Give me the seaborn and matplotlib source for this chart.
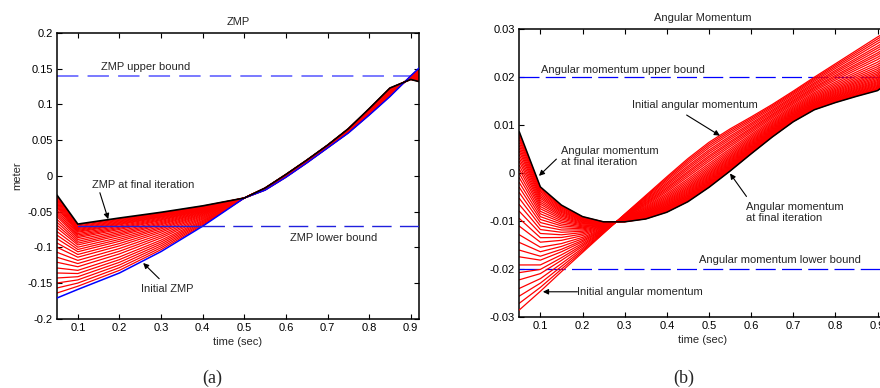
import matplotlib
matplotlib.use("Agg")
import matplotlib.pyplot as plt
import seaborn as sns
import pandas as pd
import numpy as np

# ---------------- data ----------------
zmp_time = [0.05, 0.1, 0.2, 0.3, 0.4, 0.5, 0.55, 0.6, 0.65, 0.7, 0.75, 0.8, 0.85, 0.9, 0.92]
zmp_initial = [-0.171, -0.159, -0.136, -0.106, -0.0705, -0.031, -0.020, -0.002, 0.018, 0.039,
               0.060, 0.085, 0.111, 0.140, 0.151]
zmp_final = [-0.027, -0.0675, -0.059, -0.051, -0.042, -0.031, -0.017, 0.002, 0.022, 0.043,
             0.066, 0.094, 0.123, 0.135, 0.132]
zmp_iter_start = [-0.164, -0.157, -0.150, -0.143, -0.136, -0.129, -0.121, -0.114, -0.107,
                  -0.100, -0.094, -0.088, -0.083, -0.078, -0.073, -0.069, -0.065, -0.061,
                  -0.057, -0.054, -0.051, -0.048, -0.045, -0.043, -0.041, -0.039, -0.037,
                  -0.035, -0.033, -0.031, -0.029]
zmp_upper = 0.14
zmp_lower = -0.07

am_time = [0.05, 0.1, 0.15, 0.2, 0.25, 0.3, 0.35, 0.4, 0.45, 0.5, 0.55, 0.6, 0.65, 0.7,
           0.75, 0.8, 0.85, 0.9, 0.92]
am_initial = [-0.0286, -0.0247, -0.0206, -0.0166, -0.0126, -0.0086, -0.0047, -0.0008, 0.0030,
              0.0064, 0.0092, 0.0117, 0.0143, 0.0171, 0.0200, 0.0228, 0.0256, 0.0284, 0.0294]
am_final = [0.0086, -0.0029, -0.0067, -0.0091, -0.0102, -0.0102, -0.0096, -0.0082, -0.0060,
            -0.0030, 0.0004, 0.0040, 0.0075, 0.0107, 0.0132, 0.0147, 0.0160, 0.0172, 0.0185]
# angular momentum of each intermediate iteration at t = 0.05
am_iter_start = [-0.0272, -0.0257, -0.0241, -0.0223, -0.0208, -0.0192, -0.0175, -0.0161,
                 -0.0145, -0.0129, -0.0111, -0.0095, -0.0080, -0.0066, -0.0053, -0.0041,
                 -0.0030, -0.0020, -0.0010, -0.0001, 0.0008, 0.0016, 0.0024, 0.0031, 0.0038,
                 0.0045, 0.0051, 0.0057, 0.0063, 0.0069, 0.0074, 0.0079, 0.0083]
am_upper = 0.02
am_lower = -0.02

x_ticks = [0.1, 0.2, 0.3, 0.4, 0.5, 0.6, 0.7, 0.8, 0.9]
zmp_yticks = [-0.2, -0.15, -0.1, -0.05, 0, 0.05, 0.1, 0.15, 0.2]
zmp_yticklabels = ["-0.2", "-0.15", "-0.1", "-0.05", "0", "0.05", "0.1", "0.15", "0.2"]
am_yticks = [-0.03, -0.02, -0.01, 0, 0.01, 0.02, 0.03]
am_yticklabels = ["-0.03", "-0.02", "-0.01", "0", "0.01", "0.02", "0.03"]


def iteration_frame(time, initial, final, starts):
    ini = np.array(initial)
    fin = np.array(final)
    rows = []
    for k, s in enumerate(starts):
        w = (s - ini[0]) / (fin[0] - ini[0])
        vals = ini + w * (fin - ini)
        for t, v in zip(time, vals):
            rows.append({"t": t, "v": v, "iter": k})
    return pd.DataFrame(rows)


# ---------------- style ----------------
sns.set_style("ticks", {"xtick.direction": "in", "ytick.direction": "in"})
plt.rcParams["font.family"] = ["Liberation Sans", "DejaVu Sans"]
plt.rcParams["axes.linewidth"] = 1.1
plt.rcParams["xtick.major.size"] = 3.5
plt.rcParams["ytick.major.size"] = 3.5

fig = plt.figure(figsize=(8.8, 3.88), dpi=100)
ax1 = fig.add_axes([0.0648, 0.1786, 0.4114, 0.7363])
ax2 = fig.add_axes([0.5901, 0.1838, 0.4167, 0.7407])

FS = 8

# ---------------- left: ZMP ----------------
ax1.plot([0.05, 0.92], [zmp_upper, zmp_upper], color="#5555ff", lw=1.1,
         dashes=(14, 6), zorder=1)
df1 = iteration_frame(zmp_time, zmp_initial, zmp_final, zmp_iter_start)
sns.lineplot(data=df1, x="t", y="v", units="iter", estimator=None, color="red",
             lw=0.9, ax=ax1, zorder=2, legend=False)
sns.lineplot(x=zmp_time, y=zmp_initial, color="blue", lw=1.1, ax=ax1, zorder=3)
sns.lineplot(x=zmp_time, y=zmp_final, color="black", lw=1.2, ax=ax1, zorder=4)
ax1.plot([0.1, 0.405], [zmp_lower, zmp_lower], color="#2020dd", lw=1.0, zorder=5)
ax1.plot([0.405, 0.92], [zmp_lower, zmp_lower], color="#2020dd", lw=1.0,
         dashes=(14, 6), zorder=5)

ax1.set_xlim(0.05, 0.92)
ax1.set_ylim(-0.2, 0.2)
ax1.set_xticks(x_ticks)
ax1.set_xticklabels([f"{v:g}" for v in x_ticks])
ax1.set_yticks(zmp_yticks)
ax1.set_yticklabels(zmp_yticklabels)
ax1.set_title("ZMP", fontsize=FS, pad=6)
ax1.set_xlabel("time (sec)", fontsize=FS, labelpad=3)
ax1.set_ylabel("meter", fontsize=FS, labelpad=4)

ax1.text(0.156, 0.153, "ZMP upper bound", fontsize=FS, va="center", ha="left")
ax1.text(0.611, -0.087, "ZMP lower bound", fontsize=FS, va="center", ha="left")
ax1.text(0.134, -0.0126, "ZMP at final iteration", fontsize=FS, va="center", ha="left")
ax1.annotate("", xy=(0.173, -0.0606), xytext=(0.153, -0.0236),
             arrowprops=dict(arrowstyle="-|>", color="black", lw=0.8,
                             mutation_scale=8, shrinkA=0, shrinkB=0))
ax1.text(0.253, -0.158, "Initial ZMP", fontsize=FS, va="center", ha="left")
ax1.annotate("", xy=(0.257, -0.122), xytext=(0.2955, -0.144),
             arrowprops=dict(arrowstyle="-|>", color="black", lw=0.8,
                             mutation_scale=8, shrinkA=0, shrinkB=0))

# ---------------- right: Angular momentum ----------------
ax2.plot([0.05, 0.92], [am_upper, am_upper], color="blue", lw=0.9,
         dashes=(16, 5), zorder=1)
ax2.plot([0.05, 0.92], [am_lower, am_lower], color="blue", lw=0.9,
         dashes=(16, 5), zorder=1)
df2 = iteration_frame(am_time, am_initial, am_final, am_iter_start)
sns.lineplot(data=df2, x="t", y="v", units="iter", estimator=None, color="red",
             lw=0.9, ax=ax2, zorder=2, legend=False)
sns.lineplot(x=am_time, y=am_initial, color="red", lw=0.9, ax=ax2, zorder=3)
sns.lineplot(x=am_time, y=am_final, color="black", lw=1.1, ax=ax2, zorder=4)

ax2.set_xlim(0.05, 0.92)
ax2.set_ylim(-0.03, 0.03)
ax2.set_xticks(x_ticks)
ax2.set_xticklabels([f"{v:g}" for v in x_ticks])
ax2.set_yticks(am_yticks)
ax2.set_yticklabels(am_yticklabels)
ax2.set_title("Angular Momentum", fontsize=FS, pad=6)
ax2.set_xlabel("time (sec)", fontsize=FS, labelpad=3)
ax2.set_ylabel("")

ax2.text(0.102, 0.0216, "Angular momentum upper bound", fontsize=FS, va="center", ha="left")
ax2.text(0.477, -0.0182, "Angular momentum lower bound", fontsize=FS, va="center", ha="left")
ax2.text(0.318, 0.0142, "Initial angular momentum", fontsize=FS, va="center", ha="left")
ax2.annotate("", xy=(0.526, 0.0078), xytext=(0.447, 0.0121),
             arrowprops=dict(arrowstyle="-|>", color="black", lw=0.8,
                             mutation_scale=8, shrinkA=0, shrinkB=0))
ax2.text(0.150, 0.0035, "Angular momentum\nat final iteration", fontsize=FS,
         va="center", ha="left", linespacing=1.15)
ax2.annotate("", xy=(0.0967, -0.0006), xytext=(0.138, 0.0029),
             arrowprops=dict(arrowstyle="-|>", color="black", lw=0.8,
                             mutation_scale=8, shrinkA=0, shrinkB=0))
ax2.text(0.588, -0.00825, "Angular momentum\nat final iteration", fontsize=FS,
         va="center", ha="left", linespacing=1.15)
ax2.annotate("", xy=(0.55, -0.0001), xytext=(0.589, -0.0049),
             arrowprops=dict(arrowstyle="-|>", color="black", lw=0.8,
                             mutation_scale=8, shrinkA=0, shrinkB=0))
ax2.text(0.188, -0.0248, "Initial angular momentum", fontsize=FS, va="center", ha="left")
ax2.annotate("", xy=(0.106, -0.0248), xytext=(0.188, -0.0248),
             arrowprops=dict(arrowstyle="-|>", color="black", lw=0.8,
                             mutation_scale=8, shrinkA=0, shrinkB=0))

for ax in (ax1, ax2):
    for side in ("top", "right", "left", "bottom"):
        ax.spines[side].set_visible(True)
        ax.spines[side].set_color("black")
    ax.tick_params(axis="both", which="both", direction="in", top=True, right=True,
                   labelsize=FS, colors="black", pad=3)

fig.text(212 / 880, 1 - 378 / 388, "(a)", fontsize=13, ha="center", va="center",
         family=["Liberation Serif", "DejaVu Serif"])
fig.text(684 / 880, 1 - 378 / 388, "(b)", fontsize=13, ha="center", va="center",
         family=["Liberation Serif", "DejaVu Serif"])

fig.savefig("out.png", dpi=100)
